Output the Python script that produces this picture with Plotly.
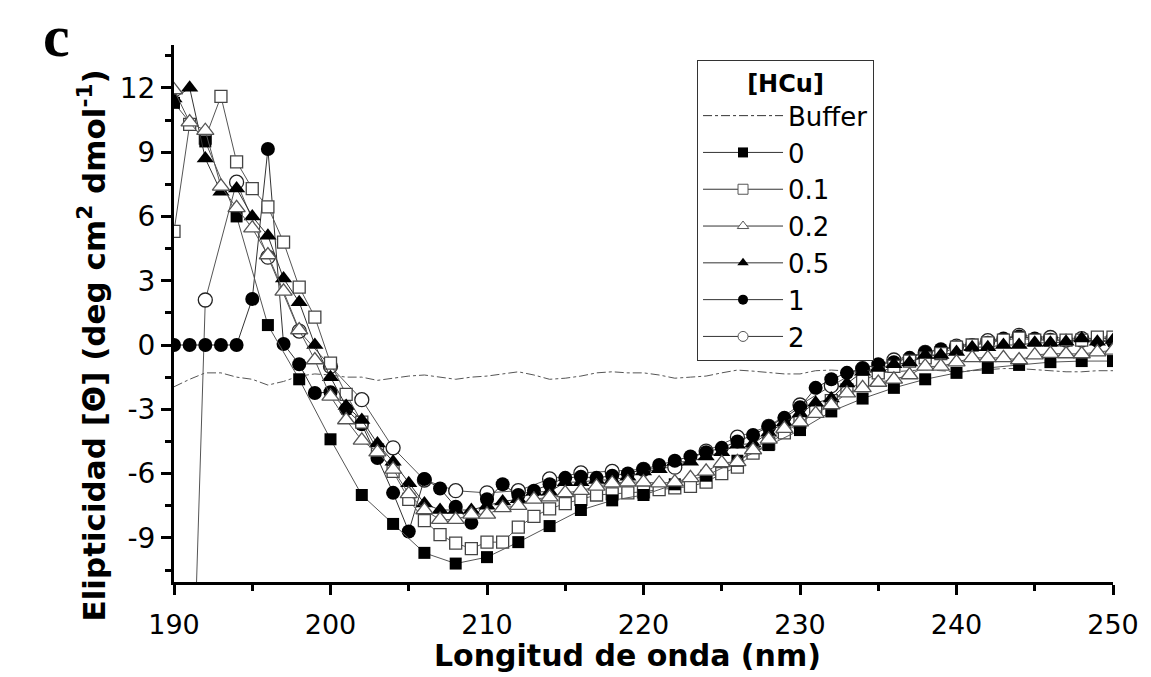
import plotly.graph_objects as go

# ---- data ----
wavelength = list(range(190, 251))          # nm, every 1 nm
wavelength_even = list(range(190, 251, 2))  # nm, every 2 nm

buffer_vals = [-1.95, -1.6, -1.3, -1.3, -1.5, -1.6, -1.87, -1.7, -1.45, -1.35,
               -1.4, -1.5, -1.5, -1.65, -1.55, -1.45, -1.4, -1.5, -1.6, -1.5,
               -1.45, -1.35, -1.25, -1.4, -1.6, -1.55, -1.45, -1.3, -1.25, -1.3,
               -1.3, -1.4, -1.55, -1.5, -1.45, -1.3, -1.17, -1.22, -1.3, -1.35,
               -1.35, -1.2, -1.17, -1.2, -1.25, -1.3, -1.25, -1.2, -1.15, -1.2,
               -1.25, -1.2, -1.15, -1.1, -1.1, -1.15, -1.2, -1.25, -1.25, -1.2, -1.2]

hcu_0 = [11.3, 9.5, 6.0, 0.93, -1.6, -4.4, -7.0, -8.35, -9.7, -10.2,
         -9.9, -9.2, -8.45, -7.7, -7.25, -7.0, -6.5, -6.1, -5.4, -4.67,
         -3.97, -3.1, -2.5, -2.0, -1.6, -1.3, -1.07, -0.93, -0.8, -0.75, -0.75]

hcu_01 = [5.3, 10.3, 9.65, 11.6, 8.55, 7.3, 6.45, 4.8, 2.7, 1.3,
          -0.85, -2.3, -3.6, -4.9, -5.9, -7.2, -8.2, -8.85, -9.25, -9.5,
          -9.2, -9.2, -8.5, -8.0, -7.65, -7.4, -7.2, -7.0, -6.95, -6.9,
          -6.85, -6.75, -6.67, -6.6, -6.4, -6.0, -5.7, -5.05, -4.6, -4.1,
          -3.6, -3.1, -2.6, -2.1, -1.7, -1.3, -1.0, -0.75, -0.6, -0.4,
          -0.1, 0.0, 0.1, 0.23, 0.32, 0.23, 0.23, 0.23, 0.23, 0.37, 0.37]

hcu_02 = [11.9, 10.4, 10.0, 7.4, 6.4, 5.45, 4.2, 2.5, 0.7, -0.7,
          -2.4, -3.5, -4.45, -5.0, -5.8, -6.95, -7.7, -8.15, -8.15, -7.9,
          -7.9, -7.6, -7.5, -7.2, -7.1, -6.9, -6.8, -6.6, -6.45, -6.4,
          -6.4, -6.45, -6.4, -6.2, -5.9, -5.5, -5.45, -4.9, -4.4, -3.9,
          -3.6, -3.2, -2.8, -2.25, -2.0, -1.75, -1.6, -1.4, -1.0, -1.0,
          -0.8, -0.6, -0.6, -0.6, -0.7, -0.47, -0.4, -0.42, -0.42, -0.33, -0.25]

hcu_05 = [11.5, 12.0, 8.7, 7.15, 7.3, 6.0, 5.1, 3.1, 2.0, 0.0,
          -1.5, -2.85, -3.5, -4.6, -5.45, -6.45, -7.4, -7.7, -7.7, -7.7,
          -7.5, -7.3, -7.2, -6.85, -6.85, -6.4, -6.4, -6.3, -6.3, -6.15,
          -5.9, -5.8, -5.45, -5.45, -5.2, -5.0, -4.65, -4.6, -4.1, -3.6,
          -3.2, -2.7, -2.5, -1.8, -1.25, -1.07, -0.9, -0.82, -0.47, -0.47,
          -0.33, -0.1, -0.1, 0.0, 0.0, 0.1, 0.1, 0.15, 0.3, 0.15, 0.23]

hcu_1 = [0.0, 0.0, 0.0, 0.0, 0.0, 2.15, 9.15, 0.05, -0.9, -2.24,
         -2.2, -3.0, -3.7, -5.27, -6.9, -8.7, -6.25, -6.7, -7.55, -8.3,
         -7.2, -6.5, -7.0, -6.8, -6.5, -6.2, -6.15, -6.2, -6.1, -6.0,
         -5.8, -5.6, -5.4, -5.2, -5.0, -4.8, -4.5, -4.2, -3.8, -3.4,
         -2.9, -2.0, -1.6, -1.3, -1.1, -0.9, -0.8, -0.6, -0.35, -0.2,
         -0.1, 0.0, 0.1, 0.3, 0.4, 0.3, 0.25, 0.2, 0.2, 0.2, 0.15]

hcu_2 = [-45.0, 2.1, 7.6, 4.1, 0.65, -1.0, -2.55, -4.8, -6.3, -6.8,
         -6.9, -6.8, -6.25, -5.97, -5.9, -5.8, -5.7, -4.95, -4.3, -3.8,
         -2.8, -1.9, -1.1, -0.7, -0.35, -0.05, 0.2, 0.45, 0.35, 0.3, 0.3]

x_ticks = [190, 200, 210, 220, 230, 240, 250]
y_ticks = [-9, -6, -3, 0, 3, 6, 9, 12]

TICK_FONT = "'DejaVu Sans', Arial, sans-serif"
TITLE_FONT = "'DejaVu Sans', Arial, sans-serif"
LINE_C = "#555555"

# series definitions: name, x, y, symbol, fill, outline, size, line colour, legend rank
series = [
    ("2",   wavelength_even, hcu_2,  "circle",      "white", "#222222", 14, LINE_C,    7),
    ("1",   wavelength,      hcu_1,  "circle",      "black", "black",   14, "#333333", 6),
    ("0.1", wavelength,      hcu_01, "square",      "white", "#444444", 12, LINE_C,    3),
    ("0",   wavelength_even, hcu_0,  "square",      "black", "black",   12, LINE_C,    2),
    ("0.5", wavelength,      hcu_05, "triangle-up", "black", "black",   15, "#333333", 5),
    ("0.2", wavelength,      hcu_02, "triangle-up", "white", "#555555", 15, LINE_C,    4),
]

fig = go.Figure()

fig.add_trace(go.Scatter(
    x=wavelength, y=buffer_vals, name="Buffer", mode="lines",
    line=dict(color="#555555", width=1, dash="dashdot"), showlegend=False))

for name, xs, ys, sym, fill, outline, size, lc, rank in series:
    open_marker = fill == "white"
    fig.add_trace(go.Scatter(
        x=xs, y=ys, name=name, mode="lines+markers",
        line=dict(color=lc, width=1),
        marker=dict(symbol=sym, size=size, color=fill,
                    line=dict(color=outline, width=1.3 if open_marker else 0)),
        showlegend=False))

# legend entries (smaller markers, as in the reference legend)
fig.add_trace(go.Scatter(
    x=[None], y=[None], name="Buffer", mode="lines",
    line=dict(color="#333333", width=1, dash="dashdot"), legendrank=1))
for name, xs, ys, sym, fill, outline, size, lc, rank in series:
    open_marker = fill == "white"
    fig.add_trace(go.Scatter(
        x=[None], y=[None], name=name, mode="lines+markers",
        line=dict(color="#333333", width=1),
        marker=dict(symbol=sym, size=10, color=fill,
                    line=dict(color="#555555" if open_marker else "black",
                              width=1 if open_marker else 0)),
        legendrank=rank))

fig.update_layout(
    width=1151, height=677,
    margin=dict(l=174, r=29, t=45, b=95),
    paper_bgcolor="white", plot_bgcolor="white",
    font=dict(family=TICK_FONT, color="black", size=26),
    showlegend=True,
    legend=dict(
        x=0.557, y=0.972, xanchor="left", yanchor="top",
        bgcolor="white", bordercolor="#333333", borderwidth=1,
        font=dict(family=TICK_FONT, size=26, color="black"),
        title=dict(text="<b>[HCu]</b>", side="top center",
                   font=dict(family=TICK_FONT, size=24, color="black")),
        tracegroupgap=0, itemwidth=80,
    ),
    xaxis=dict(
        range=[190, 250], tickmode="array", tickvals=x_ticks,
        ticktext=[str(v) for v in x_ticks],
        showgrid=False, zeroline=False,
        showline=True, linecolor="black", linewidth=3,
        ticks="outside", ticklen=10, tickwidth=3, tickcolor="black",
        ticklabelstandoff=7,
        tickfont=dict(family=TICK_FONT, size=27, color="black"),
        minor=dict(tickvals=[195, 205, 215, 225, 235, 245], ticks="outside",
                   ticklen=6, tickwidth=3, tickcolor="black"),
    ),
    yaxis=dict(
        range=[-11.06, 14.0], tickmode="array", tickvals=y_ticks,
        ticktext=[str(v) for v in y_ticks],
        showgrid=False, zeroline=False,
        showline=True, linecolor="black", linewidth=3,
        ticks="outside", ticklen=10, tickwidth=3, tickcolor="black",
        tickfont=dict(family=TICK_FONT, size=28, color="black"),
        minor=dict(tickvals=[-10.5, -7.5, -4.5, -1.5, 1.5, 4.5, 7.5, 10.5, 13.5],
                   ticks="outside", ticklen=6, tickwidth=3, tickcolor="black"),
    ),
)

# axis titles
fig.add_annotation(
    text="<b>Longitud de onda (nm)</b>", xref="paper", yref="paper",
    x=0.483, y=-0.137, xanchor="center", yanchor="middle", showarrow=False,
    font=dict(family=TITLE_FONT, size=30, color="black"))
fig.add_annotation(
    text="<b>Elipticidad [Θ] (deg cm<sup>2</sup> dmol<sup>-1</sup>)</b>",
    xref="paper", yref="paper", x=-0.0870, y=0.441, textangle=-90,
    xanchor="center", yanchor="middle", showarrow=False,
    font=dict(family=TITLE_FONT, size=31, color="black"))

# panel letter
fig.add_annotation(
    text="<b>c</b>", xref="paper", yref="paper", x=-0.1255, y=1.082,
    xanchor="center", yanchor="top", showarrow=False,
    font=dict(family="'Liberation Serif', 'Times New Roman', serif", size=60, color="black"))

fig.write_html("out.html")
